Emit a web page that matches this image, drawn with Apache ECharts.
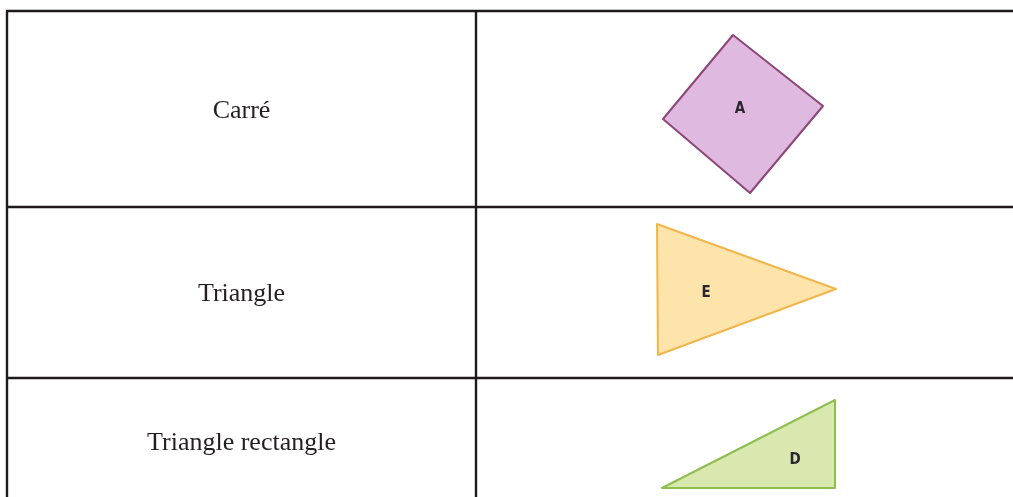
<!DOCTYPE html>
<html>
<head>
<meta charset="utf-8">
<script src="https://cdn.jsdelivr.net/npm/echarts@6/dist/echarts.min.js"></script>
<style>
  html, body { margin: 0; padding: 0; background: #fff; }
  #main { width: 1013px; height: 497px; }
</style>
</head>
<body>
<div id="main"></div>
<script>
// table layout in axis units (x: 0..1013, y: 0..497 from the top)
let colEdges = [7, 476, 1013]
let rowEdges = [11, 207, 378, 504]
let rowLabels = ['Carré', 'Triangle', 'Triangle rectangle']

// shapes drawn in the right column
let shapeNames = ['A', 'E', 'D']
let squareA = [[733, 35], [823, 106], [750, 193], [663, 119]]
let triangleE = [[657, 224], [836, 289], [658, 355]]
let triangleD = [[662, 488], [835, 400], [835, 488]]
let letterPoints = [[740, 109], [706, 293], [795, 460]]

let shapeList = [squareA, triangleE, triangleD]
let fillColors = ['#dfb9df', '#fde4ab', '#d9e8ae']
let strokeColors = ['#8c4677', '#f2b54c', '#8fbd4f']

let chart = echarts.init(document.getElementById('main'))

let option = {
  animation: false,
  backgroundColor: '#ffffff',
  grid: { left: 0, right: 0, top: 0, bottom: 0 },
  xAxis: { type: 'value', min: 0, max: 1013, show: false },
  yAxis: { type: 'value', min: 0, max: 497, inverse: true, show: false },
  series: [
    {
      // table borders
      type: 'custom',
      coordinateSystem: 'cartesian2d',
      clip: false,
      silent: true,
      data: [0],
      renderItem: function (params, api) {
        let children = []
        let lineStyle = { stroke: '#1f1b1c', lineWidth: 2.4 }
        // horizontal lines (no bottom one, picture is cut there)
        for (let i = 0; i < rowEdges.length - 1; i++) {
          let a = api.coord([colEdges[0] - 1, rowEdges[i]])
          let b = api.coord([colEdges[colEdges.length - 1], rowEdges[i]])
          children.push({ type: 'line', shape: { x1: a[0], y1: a[1], x2: b[0], y2: b[1] }, style: lineStyle })
        }
        // vertical lines
        for (let j = 0; j < colEdges.length - 1; j++) {
          let a = api.coord([colEdges[j], rowEdges[0]])
          let b = api.coord([colEdges[j], 497])
          children.push({ type: 'line', shape: { x1: a[0], y1: a[1], x2: b[0], y2: b[1] }, style: lineStyle })
        }
        // row labels
        for (let i = 0; i < rowLabels.length; i++) {
          let c = api.coord([(colEdges[0] + colEdges[1]) / 2, (rowEdges[i] + rowEdges[i + 1]) / 2])
          children.push({
            type: 'text',
            x: c[0], y: c[1] + 2,
            style: {
              text: rowLabels[i],
              fill: '#231f20',
              font: '26px "Liberation Serif", "Times New Roman", serif',
              align: 'center',
              verticalAlign: 'middle'
            }
          })
        }
        return { type: 'group', children: children }
      }
    },
    {
      // shapes
      type: 'custom',
      coordinateSystem: 'cartesian2d',
      clip: false,
      silent: true,
      data: shapeNames.map(function (n, i) { return [i] }),
      renderItem: function (params, api) {
        let i = params.dataIndex
        let pts = shapeList[i].map(function (p) { return api.coord(p) })
        let lp = api.coord(letterPoints[i])
        return {
          type: 'group',
          children: [
            {
              type: 'polygon',
              shape: { points: pts },
              style: { fill: fillColors[i], stroke: strokeColors[i], lineWidth: 2, lineJoin: 'round' }
            },
            {
              type: 'text',
              x: lp[0], y: lp[1],
              style: {
                text: shapeNames[i],
                fill: '#2b2530',
                font: 'bold 15px "DejaVu Sans Condensed", "DejaVu Sans", sans-serif',
                align: 'center',
                verticalAlign: 'middle'
              }
            }
          ]
        }
      }
    }
  ]
}
chart.setOption(option)
</script>
</body>
</html>
